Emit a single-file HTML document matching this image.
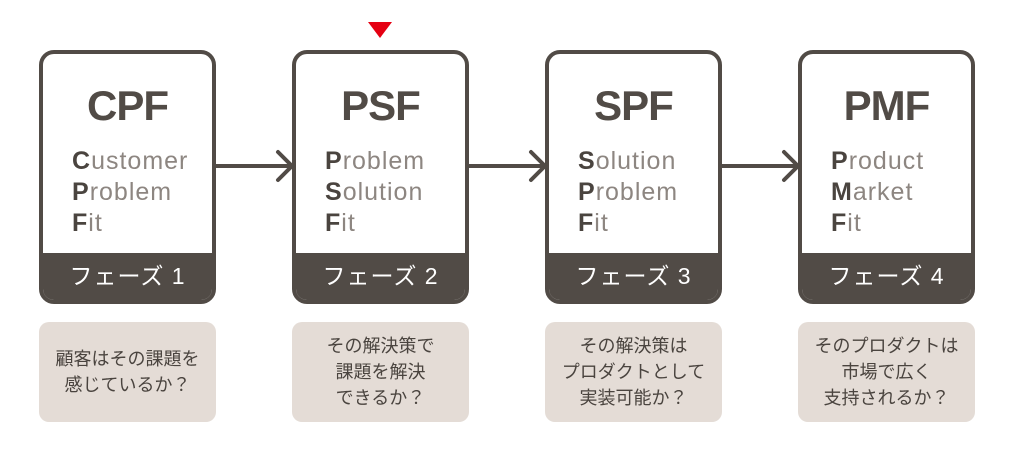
<!DOCTYPE html>
<html><head><meta charset="utf-8"><style>
body{margin:0;width:1020px;height:460px;background:#fff;position:relative;overflow:hidden;font-family:"Liberation Sans","Noto Sans CJK JP",sans-serif}
.card{position:absolute;top:50px;width:177px;height:254px;box-sizing:border-box;border:4px solid #514b46;border-radius:15px;overflow:hidden;background:#fff}
.t{position:absolute;top:28px;left:0;right:0;text-align:center;font-size:42px;font-weight:bold;color:#514b46;letter-spacing:-1px}
.s{position:absolute;top:92px;left:29px;font-size:25px;line-height:31px;color:#8d8681;letter-spacing:1px}
.s b{color:#4a443f;font-weight:bold}
.ph{position:absolute;left:0;right:0;bottom:0;height:47px;background:#514b46;color:#fff;font-size:23px;text-align:center;line-height:46px;letter-spacing:1px}
.q{position:absolute;top:322px;width:177px;height:100px;background:#e4dcd6;border-radius:10px;display:flex;align-items:center;justify-content:center;text-align:center;font-size:18px;line-height:26px;color:#4a443f}
</style></head><body>
<svg width="1020" height="460" style="position:absolute;left:0;top:0">
<polygon points="368,22 392,22 380,38" fill="#e50012"/>
<g stroke="#514b46" stroke-width="4" fill="none" stroke-linecap="round">
<line x1="216" y1="166" x2="290" y2="166"/><polyline points="278,152 292,166 278,180"/>
<line x1="469" y1="166" x2="543" y2="166"/><polyline points="531,152 545,166 531,180"/>
<line x1="722" y1="166" x2="796" y2="166"/><polyline points="784,152 798,166 784,180"/>
</g></svg>
<div class="card" style="left:39px"><div class="t">CPF</div><div class="s"><b>C</b>ustomer<br><b>P</b>roblem<br><b>F</b>it</div><div class="ph">フェーズ 1</div></div>
<div class="card" style="left:292px"><div class="t">PSF</div><div class="s"><b>P</b>roblem<br><b>S</b>olution<br><b>F</b>it</div><div class="ph">フェーズ 2</div></div>
<div class="card" style="left:545px"><div class="t">SPF</div><div class="s"><b>S</b>olution<br><b>P</b>roblem<br><b>F</b>it</div><div class="ph">フェーズ 3</div></div>
<div class="card" style="left:798px"><div class="t">PMF</div><div class="s"><b>P</b>roduct<br><b>M</b>arket<br><b>F</b>it</div><div class="ph">フェーズ 4</div></div>
<div class="q" style="left:39px">顧客はその課題を<br>感じているか？</div>
<div class="q" style="left:292px">その解決策で<br>課題を解決<br>できるか？</div>
<div class="q" style="left:545px">その解決策は<br>プロダクトとして<br>実装可能か？</div>
<div class="q" style="left:798px">そのプロダクトは<br>市場で広く<br>支持されるか？</div>
</body></html>
